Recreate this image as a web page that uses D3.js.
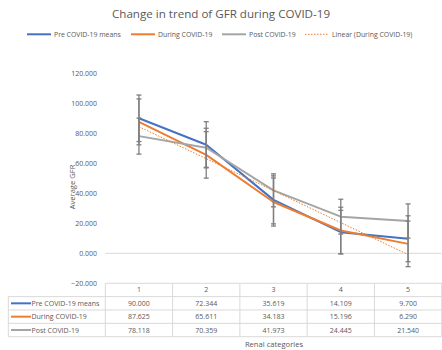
<!DOCTYPE html>
<html><head><meta charset="utf-8">
<script src="https://cdn.jsdelivr.net/npm/d3@7"></script>
<style>body{margin:0;background:#fff}svg{display:block;font-family:"Open Sans",sans-serif}</style>
</head><body><svg id="c" width="442" height="350"></svg>
<script>
const categories = ["1","2","3","4","5"];
const seriesNames = ["Pre COVID-19 means","During COVID-19","Post COVID-19"];
const preValues = [90.000, 72.344, 35.619, 14.109, 9.700];
const duringValues = [87.625, 65.611, 34.183, 15.196, 6.290];
const postValues = [78.118, 70.359, 41.973, 24.445, 21.540];
const preErr = [15.5, 15.4, 16.0, 14.5, 15.3];
const duringErr = [15.3, 15.5, 16.0, 15.5, 15.2];
const postErr = [12.0, 13.0, 11.0, 11.6, 11.4];
const yTicks = [-20, 0, 20, 40, 60, 80, 100, 120];
const colors = ["#4472C4", "#ED7D31", "#A5A5A5"];

const series = [
  {name: seriesNames[0], values: preValues, err: preErr, color: colors[0]},
  {name: seriesNames[1], values: duringValues, err: duringErr, color: colors[1]},
  {name: seriesNames[2], values: postValues, err: postErr, color: colors[2]}
];

// linear trendline of "During" (least squares)
const xs = categories.map((c,i)=>i+1);
const mx = d3.mean(xs), my = d3.mean(duringValues);
const slope = d3.sum(xs.map((x,i)=>(x-mx)*(duringValues[i]-my))) / d3.sum(xs.map(x=>(x-mx)**2));
const icpt = my - slope*mx;

const svg = d3.select("#c");
const txt = "#595959";
const x = d3.scaleBand().domain(categories).range([105.3, 441.7]).padding(0);
const bw = x.bandwidth();
const cx = c => x(c) + bw/2;
const y = d3.scaleLinear().domain([-20, 120]).range([283.3, 73.3]);

// title
svg.append("text").attr("x", 221).attr("y", 18).attr("text-anchor","middle")
  .attr("font-size", 11.6).attr("fill", txt).text("Change in trend of GFR during COVID-19");

// legend
const legendItems = [
  {name: seriesNames[0], color: colors[0], x0: 27, dash: null},
  {name: seriesNames[1], color: colors[1], x0: 131, dash: null},
  {name: seriesNames[2], color: colors[2], x0: 222, dash: null},
  {name: "Linear (During COVID-19)", color: colors[1], x0: 305, dash: "1.5,1.5"}
];
legendItems.forEach(d=>{
  svg.append("line").attr("x1", d.x0).attr("x2", d.x0+24).attr("y1", 34.3).attr("y2", 34.3)
    .attr("stroke", d.color).attr("stroke-width", d.dash?1:2).attr("stroke-dasharray", d.dash);
  svg.append("text").attr("x", d.x0+27).attr("y", 36.8).attr("font-size", 6.9).attr("fill", txt).text(d.name);
});

// y axis labels
const yAxis = d3.axisLeft(y).tickValues(yTicks).tickFormat(d3.format(".3f")).tickSize(0).tickPadding(0);
const ga = svg.append("g").attr("transform","translate(97,0)").call(yAxis);
ga.select(".domain").remove();
ga.selectAll("text").attr("fill", txt).attr("font-size", 7).attr("font-family", "'Open Sans',sans-serif");

// axis titles
svg.append("text").attr("transform","translate(75,187) rotate(-90)").attr("text-anchor","middle")
  .attr("font-size", 7.6).attr("fill", txt).text("Average GFR");
svg.append("text").attr("x", 274).attr("y", 347).attr("text-anchor","middle")
  .attr("font-size", 7.6).attr("fill", txt).text("Renal categories");

// zero line
svg.append("line").attr("x1", 105.3).attr("x2", 441.7).attr("y1", y(0)).attr("y2", y(0))
  .attr("stroke", "#d9d9d9").attr("stroke-width", 1);

// series lines
const line = d3.line().x((d,i)=>cx(categories[i])).y(d=>y(d));
series.forEach(s=>{
  svg.append("path").datum(s.values).attr("d", line).attr("fill","none")
    .attr("stroke", s.color).attr("stroke-width", 2).attr("stroke-linejoin","round");
});
// trendline
const trend = xs.map(v=>icpt + slope*v);
svg.append("path").datum(trend).attr("d", line).attr("fill","none")
  .attr("stroke", colors[1]).attr("stroke-width", 1).attr("stroke-dasharray","1.5,1.5");

// error bars
series.forEach(s=>{
  s.values.forEach((v,i)=>{
    const px = cx(categories[i]);
    const g = svg.append("g").attr("stroke", "#7f7f7f").attr("stroke-width", 1.3);
    g.append("line").attr("x1", px).attr("x2", px).attr("y1", y(v + s.err[i])).attr("y2", y(v - s.err[i]));
    [v + s.err[i], v - s.err[i]].forEach(e=>{
      g.append("line").attr("x1", px-2.5).attr("x2", px+2.5).attr("y1", y(e)).attr("y2", y(e));
    });
  });
});

// data table
const tbl = svg.append("g");
const border = "#d9d9d9";
const hdrTop = 283.3, rowH = 13.35;
const leftX = 8.3, rightX = 441.7;
// horizontal lines
tbl.append("line").attr("x1", 105.3).attr("x2", rightX).attr("y1", hdrTop).attr("y2", hdrTop).attr("stroke", border);
for (let r=1; r<=4; r++) {
  tbl.append("line").attr("x1", leftX).attr("x2", rightX).attr("y1", hdrTop + r*rowH).attr("y2", hdrTop + r*rowH).attr("stroke", border);
}
// vertical lines
tbl.append("line").attr("x1", leftX).attr("x2", leftX).attr("y1", hdrTop+rowH).attr("y2", hdrTop+4*rowH).attr("stroke", border);
categories.forEach(c=>{
  tbl.append("line").attr("x1", x(c)).attr("x2", x(c)).attr("y1", hdrTop).attr("y2", hdrTop+4*rowH).attr("stroke", border);
});
tbl.append("line").attr("x1", rightX).attr("x2", rightX).attr("y1", hdrTop).attr("y2", hdrTop+4*rowH).attr("stroke", border);
// header
categories.forEach(c=>{
  tbl.append("text").attr("x", cx(c)).attr("y", hdrTop + rowH/2 + 2.5).attr("text-anchor","middle")
    .attr("font-size", 7).attr("fill", txt).text(c);
});
// rows
series.forEach((s,r)=>{
  const ry = hdrTop + (r+1)*rowH;
  tbl.append("line").attr("x1", 11).attr("x2", 31).attr("y1", ry + rowH/2).attr("y2", ry + rowH/2)
    .attr("stroke", s.color).attr("stroke-width", 2);
  tbl.append("text").attr("x", 31.5).attr("y", ry + rowH/2 + 2.5).attr("font-size", 7).attr("fill", txt).text(s.name);
  s.values.forEach((v,i)=>{
    tbl.append("text").attr("x", cx(categories[i])).attr("y", ry + rowH/2 + 2.5).attr("text-anchor","middle")
      .attr("font-size", 7).attr("fill", txt).text(d3.format(".3f")(v));
  });
});
</script></body></html>
